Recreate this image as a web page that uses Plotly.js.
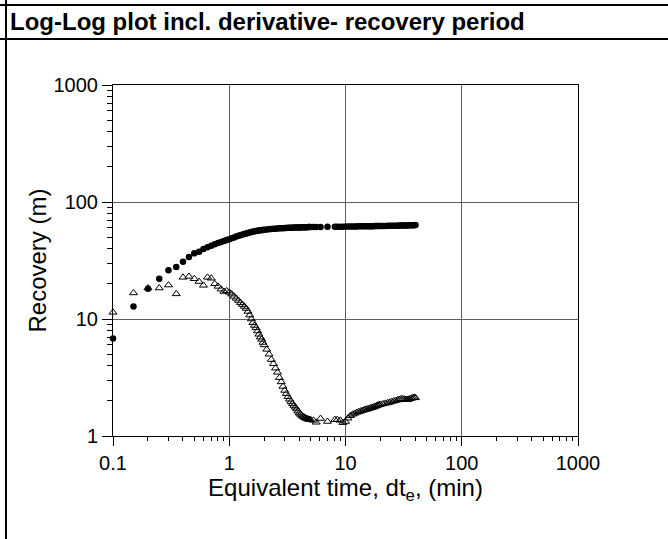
<!DOCTYPE html>
<html>
<head>
<meta charset="utf-8">
<script src="https://cdn.plot.ly/plotly-3.0.1.min.js"></script>
<style>
html,body{margin:0;padding:0;background:#fff;}
#chart{width:668px;height:539px;}
</style>
</head>
<body>
<div id="chart"></div>
<script>
// Equivalent time (min)
const time = [0.1,0.15,0.2,0.25,0.3,0.35,0.4,0.45,0.5,0.55,0.6,0.65,0.7,0.75,0.8,0.85,0.9,0.95,1.0,
  1.05,1.1,1.15,1.2,1.25,1.3,1.35,1.4,1.45,1.5,1.55,1.6,1.65,1.7,1.75,1.8,1.85,1.9,1.95,2.0,
  2.1,2.2,2.3,2.4,2.5,2.6,2.7,2.8,2.9,3.0,3.1,3.2,3.3,3.4,3.5,3.6,3.7,3.8,3.9,4.0,
  4.1,4.2,4.3,4.4,4.5,4.6,4.7,4.8,4.9,5.0,
  5.3,5.6,6.1,7.0,
  8.1,8.5,
  9,9.5,10,10.5,11,11.5,12,12.5,13,13.5,14,14.5,15,15.5,16,16.5,17,17.5,18,18.5,19,19.5,20,
  21,22,23,24,25,26,27,28,29,30,31,32,33,34,35,36,37,38,39,40];

// Recovery (m)
const recovery = [6.8,12.8,18.1,22.1,26.1,27.8,30.9,33.9,36.4,37.6,39.6,41.0,42.3,43.5,44.6,45.6,46.5,47.3,48.0,
  48.9,49.8,50.6,51.4,52.1,52.8,53.4,53.9,54.4,54.9,55.3,55.7,56.1,56.4,56.7,57.0,57.3,57.5,57.7,57.9,
  58.2,58.5,58.8,59.0,59.2,59.4,59.6,59.7,59.8,59.9,60.0,60.1,60.2,60.3,60.35,60.4,60.45,60.5,60.55,60.6,
  60.65,60.7,60.75,60.8,60.85,60.9,60.95,61.0,61.0,61.0,
  61.1,61.1,61.2,61.3,
  61.4,61.4,
  61.5,61.5,61.6,61.6,61.7,61.7,61.8,61.8,61.9,61.9,62.0,62.0,62.0,62.1,62.1,62.2,62.2,62.2,62.3,62.3,62.3,62.4,62.4,
  62.5,62.5,62.6,62.6,62.7,62.7,62.8,62.8,62.9,62.9,63.0,63.0,63.1,63.1,63.2,63.2,63.3,63.3,63.4,63.5];

// Recovery derivative (m)
const derivative = [11.4,16.7,18.4,18.4,19.5,16.4,22.7,23.1,22.1,20.9,19.4,22.7,22.3,20.0,19.0,18.0,17.2,17.4,16.9,
  16.3,15.6,15.0,14.4,13.8,13.3,12.8,12.3,11.6,10.8,10.0,9.3,8.8,8.4,7.9,7.4,7.0,6.7,6.3,6.0,
  5.5,5.0,4.5,4.15,3.8,3.5,3.15,2.9,2.65,2.45,2.3,2.17,2.06,1.97,1.89,1.82,1.76,1.70,1.63,1.57,
  1.53,1.50,1.47,1.45,1.43,1.41,1.40,1.39,1.38,1.38,
  1.36,1.31,1.41,1.33,
  1.38,1.38,
  1.36,1.30,1.33,1.42,1.49,1.53,1.56,1.59,1.61,1.63,1.65,1.67,1.69,1.70,1.72,1.74,1.75,1.77,1.79,1.81,1.83,1.85,1.86,
  1.88,1.90,1.92,1.94,1.97,1.99,2.01,2.03,2.05,2.08,2.07,2.06,2.05,2.05,2.06,2.08,2.10,2.12,2.14,2.12];

// Tick labels
const xTickVals = [0.1, 1, 10, 100, 1000];
const xTickText = ['0.1', '1', '10', '100', '1000'];
const yTickVals = [1, 10, 100, 1000];
const yTickText = ['1', '10', '100', '1000'];
const xMinorVals = [0.2,0.3,0.4,0.5,0.6,0.7,0.8,0.9,2,3,4,5,6,7,8,9,20,30,40,50,60,70,80,90,200,300,400,500,600,700,800,900];
const yMinorVals = [2,3,4,5,6,7,8,9,20,30,40,50,60,70,80,90,200,300,400,500,600,700,800,900];

const FONT = 'Arial, "Liberation Sans", sans-serif';

const traces = [
  {
    x: time, y: derivative, type: 'scatter', mode: 'markers', name: 'Derivative',
    marker: {symbol: 'triangle-up-open', size: 7, color: '#000', line: {width: 1, color: '#000'}},
    cliponaxis: false
  },
  {
    x: time, y: recovery, type: 'scatter', mode: 'markers', name: 'Recovery',
    marker: {symbol: 'circle', size: 6.5, color: '#000'},
    cliponaxis: false
  }
];

// plot area in pixels: l=113, r=578, t=85, b=436
const L = 113, R = 578, T = 85, B = 436, W = 668, H = 539;
const px = v => (v - L) / (R - L);
const py = v => (B - v) / (B - T);

const layout = {
  width: W, height: H,
  margin: {l: L, r: W - R, t: T, b: H - B, pad: 0},
  paper_bgcolor: '#fff', plot_bgcolor: '#fff',
  showlegend: false,
  font: {family: FONT, color: '#000'},
  title: {
    text: '<b>Log-Log plot incl. derivative- recovery period</b>',
    font: {family: FONT, size: 24, color: '#000'},
    x: 10 / W, xref: 'container', xanchor: 'left',
    y: 1 - 22 / H, yref: 'container', yanchor: 'middle'
  },
  xaxis: {
    type: 'log', range: [-1, 3], autorange: false,
    tickmode: 'array', tickvals: xTickVals, ticktext: xTickText,
    ticks: 'outside', ticklen: 9, tickwidth: 1, tickcolor: '#000',
    showline: true, linecolor: '#000', linewidth: 1, mirror: true,
    showgrid: true, gridcolor: '#606060', gridwidth: 1, zeroline: false,
    tickfont: {family: FONT, size: 20, color: '#000'},
    minor: {tickmode: 'array', tickvals: xMinorVals, ticks: 'outside', ticklen: 4, tickwidth: 1, tickcolor: '#000', showgrid: false},
    title: {text: 'Equivalent time, dt<sub>e</sub>, (min)', font: {family: FONT, size: 24, color: '#000'}, standoff: 0}
  },
  yaxis: {
    type: 'log', range: [0, 3], autorange: false,
    tickmode: 'array', tickvals: yTickVals, ticktext: yTickText,
    ticks: 'outside', ticklen: 10, tickwidth: 1, tickcolor: '#000',
    showline: true, linecolor: '#000', linewidth: 1, mirror: true,
    showgrid: true, gridcolor: '#606060', gridwidth: 1, zeroline: false,
    tickfont: {family: FONT, size: 20, color: '#000'},
    minor: {tickmode: 'array', tickvals: yMinorVals, ticks: 'outside', ticklen: 5, tickwidth: 1, tickcolor: '#000', showgrid: false},
    title: {text: 'Recovery (m)', font: {family: FONT, size: 24, color: '#000'}, standoff: 0}
  },
  shapes: [
    {type: 'line', xref: 'paper', yref: 'paper', x0: px(0), x1: px(W), y0: py(5), y1: py(5), line: {color: '#000', width: 2}},
    {type: 'line', xref: 'paper', yref: 'paper', x0: px(0), x1: px(W), y0: py(39), y1: py(39), line: {color: '#000', width: 2}},
    {type: 'line', xref: 'paper', yref: 'paper', x0: px(6), x1: px(6), y0: py(0), y1: py(H), line: {color: '#000', width: 2}}
  ]
};

Plotly.newPlot('chart', traces, layout, {displayModeBar: false, staticPlot: true});
</script>
</body>
</html>
